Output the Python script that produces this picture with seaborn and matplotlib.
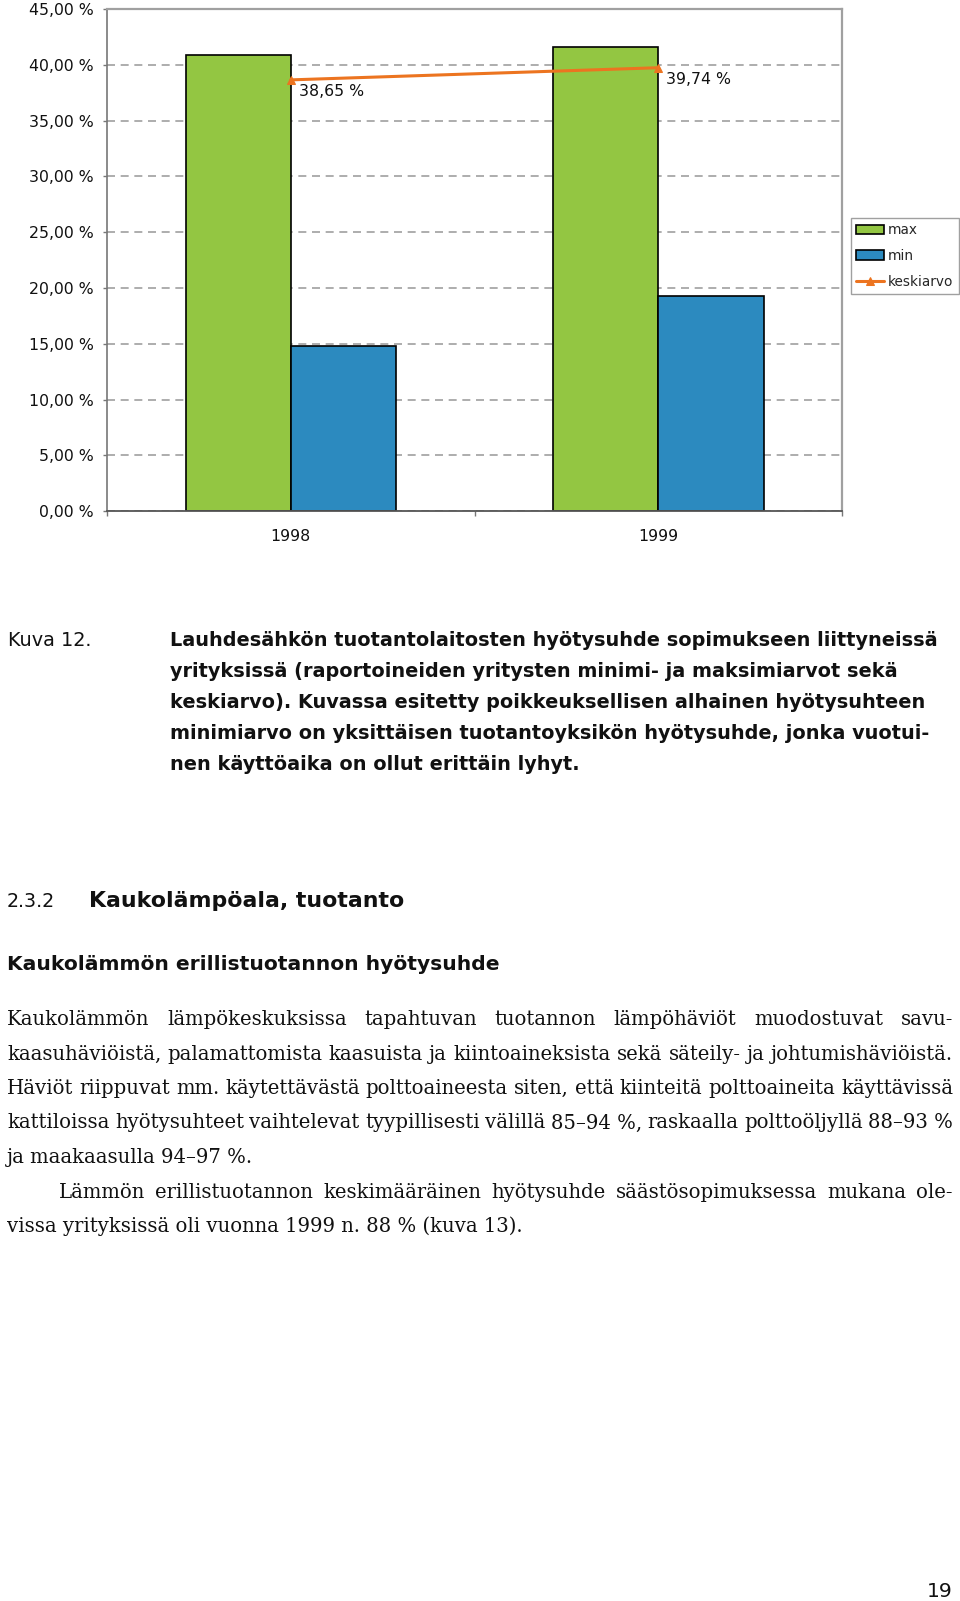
import matplotlib
matplotlib.use("Agg")
import matplotlib.pyplot as plt
import seaborn as sns
import numpy as np
import pandas as pd
from matplotlib.ticker import FuncFormatter, FixedLocator

# ---------------- data ----------------
years = ["1998", "1999"]
max_vals = [40.9, 41.6]
min_vals = [14.8, 19.3]
mean_vals = [38.65, 39.74]
series_names = ["max", "min"]
mean_name = "keskiarvo"
y_ticks = [0, 5, 10, 15, 20, 25, 30, 35, 40, 45]

caption_label = "Kuva 12."
caption_lines = [
    "Lauhdesähkön tuotantolaitosten hyötysuhde sopimukseen liittyneissä",
    "yrityksissä (raportoineiden yritysten minimi- ja maksimiarvot sekä",
    "keskiarvo). Kuvassa esitetty poikkeuksellisen alhainen hyötysuhteen",
    "minimiarvo on yksittäisen tuotantoyksikön hyötysuhde, jonka vuotui-",
    "nen käyttöaika on ollut erittäin lyhyt.",
]
section_number = "2.3.2"
section_title = "Kaukolämpöala, tuotanto"
subheading = "Kaukolämmön erillistuotannon hyötysuhde"
body_lines = [
    "Kaukolämmön lämpökeskuksissa tapahtuvan tuotannon lämpöhäviöt muodostuvat savu-",
    "kaasuhäviöistä, palamattomista kaasuista ja kiintoaineksista sekä säteily- ja johtumishäviöistä.",
    "Häviöt riippuvat mm. käytettävästä polttoaineesta siten, että kiinteitä polttoaineita käyttävissä",
    "kattiloissa hyötysuhteet vaihtelevat tyypillisesti välillä 85–94\u00a0%, raskaalla polttoöljyllä 88–93\u00a0%",
    "ja maakaasulla 94–97\u00a0%.",
    "Lämmön erillistuotannon keskimääräinen hyötysuhde säästösopimuksessa mukana ole-",
    "vissa yrityksissä oli vuonna 1999 n. 88\u00a0% (kuva 13).",
]
body_justified = [True, True, True, True, False, True, False]
body_indent = [False, False, False, False, False, True, False]
page_number = "19"

# ---------------- style ----------------
sns.set_style("white")
plt.rcParams["font.family"] = ["DejaVu Sans"]

W, H = 960, 1601
fig = plt.figure(figsize=(W / 100, H / 100), dpi=100)
fig.patch.set_facecolor("white")


def fx(x):
    return x / W


def fy(y):
    return 1 - y / H


GREEN = "#93C642"
BLUE = "#2C8ABF"
ORANGE = "#EC7420"
CH_FS = 11.3

ax = fig.add_axes([fx(107), fy(511.3), (842.3 - 107) / W, (511.3 - 9) / H])

df = pd.DataFrame({
    "vuosi": years * 2,
    "sarja": [series_names[0]] * len(years) + [series_names[1]] * len(years),
    "arvo": max_vals + min_vals,
})

sns.barplot(data=df, x="vuosi", y="arvo", hue="sarja", hue_order=series_names,
            palette=[GREEN, BLUE], saturation=1, width=0.572, gap=0,
            edgecolor="black", linewidth=1.2, errorbar=None, ax=ax)
leg = ax.get_legend()
bar_handles = list(leg.legend_handles)
bar_labels = [t.get_text() for t in leg.get_texts()]
leg.remove()
for h in bar_handles:
    h.set_edgecolor("black")
    h.set_linewidth(1.2)

sns.lineplot(x=years, y=mean_vals, ax=ax, color=ORANGE, linewidth=2.2,
             marker="^", markersize=5.5, markeredgecolor=ORANGE, legend=False,
             sort=False)
mean_line = ax.lines[-1]

for i, v in enumerate(mean_vals):
    ax.annotate(f"{v:.2f}".replace(".", ",") + " %", xy=(i, v), xytext=(8, -12),
                textcoords="offset pixels", ha="left", va="center",
                fontsize=CH_FS, color="#111111")

ax.set_xlim(-0.5, len(years) - 0.5)
ax.set_ylim(0, 45)
ax.yaxis.set_major_locator(FixedLocator(y_ticks))
ax.yaxis.set_major_formatter(FuncFormatter(lambda v, p: f"{v:.2f}".replace(".", ",") + " %"))
ax.set_xlabel("")
ax.set_ylabel("")

ax.yaxis.grid(True, linestyle=(0, (4.8, 3.4)), color="#a0a0a0", linewidth=1.2)
ax.xaxis.grid(False)
ax.set_axisbelow(True)

for s in ["top", "right"]:
    ax.spines[s].set_color("#a0a0a0")
    ax.spines[s].set_linewidth(1.6)
ax.spines["left"].set_color("#777777")
ax.spines["left"].set_linewidth(1.2)
ax.spines["bottom"].set_color("#555555")
ax.spines["bottom"].set_linewidth(1.3)

ax.tick_params(axis="y", direction="out", length=3, width=1, color="#777777",
               pad=6.3, labelsize=CH_FS, labelcolor="#111111", left=True)
ax.tick_params(axis="x", which="major", length=0, pad=13, labelsize=CH_FS,
               labelcolor="#111111")
ax.xaxis.set_minor_locator(FixedLocator(np.arange(len(years) + 1) - 0.5))
ax.tick_params(axis="x", which="minor", direction="out", length=3.6, width=1,
               color="#777777", bottom=True)

fig.legend(bar_handles + [mean_line], bar_labels + [mean_name],
           loc="upper left", bbox_to_anchor=(fx(851), fy(218)),
           bbox_transform=fig.transFigure, borderaxespad=0,
           fontsize=9.8, frameon=True, fancybox=False, shadow=False,
           framealpha=1, edgecolor="#a0a0a0", handlelength=2.0,
           handletextpad=0.3, labelspacing=0.85, borderpad=0.4,
           numpoints=1)
fig.legends[-1].get_frame().set_linewidth(1.0)

# ---------------- page text ----------------
r = fig.canvas.get_renderer()


def measure(s, **kw):
    t = fig.text(0, 0, s, **kw)
    w = t.get_window_extent(r).width
    t.remove()
    return w


def fit(s, target, **kw):
    return 10 * target / measure(s, fontsize=10, **kw)


def put_line(s, x0, base, size, x1=None, **kw):
    if x1 is None:
        fig.text(fx(x0), fy(base), s, fontsize=size, ha="left", va="baseline",
                 color="#111111", **kw)
        return
    words = s.split(" ")
    ws = [measure(w, fontsize=size, **kw) for w in words]
    gap = (x1 - x0 - sum(ws)) / max(len(words) - 1, 1)
    x = x0
    for w, wd in zip(words, ws):
        fig.text(fx(x), fy(base), w, fontsize=size, ha="left", va="baseline",
                 color="#111111", **kw)
        x += wd + gap


SANS = ["DejaVu Sans"]
SERIF = ["DejaVu Serif"]

cap_fs = fit(caption_lines[0], 765, family=SANS, fontweight="bold")
put_line(caption_label, 8, 646, cap_fs, family=SANS)
for k, line in enumerate(caption_lines):
    put_line(line, 170, 646 + 31 * k, cap_fs, family=SANS, fontweight="bold")

num_fs = fit(section_number, 48, family=SANS)
put_line(section_number, 7, 907, num_fs, family=SANS)
sec_fs = fit(section_title, 314, family=SANS, fontweight="bold")
put_line(section_title, 89, 907, sec_fs, family=SANS, fontweight="bold")
sub_fs = fit(subheading, 491, family=SANS, fontweight="bold")
put_line(subheading, 7, 970, sub_fs, family=SANS, fontweight="bold")

body_fs = fit(body_lines[-1], 514, family=SERIF)
for k, line in enumerate(body_lines):
    x0 = 59 if body_indent[k] else 7
    put_line(line, x0, 1025 + 34.5 * k, body_fs,
             x1=953 if body_justified[k] else None, family=SERIF)

pg_fs = fit(page_number, 26, family=SANS)
put_line(page_number, 927, 1597, pg_fs, family=SANS)

fig.savefig("out.png", dpi=100, facecolor="white")
